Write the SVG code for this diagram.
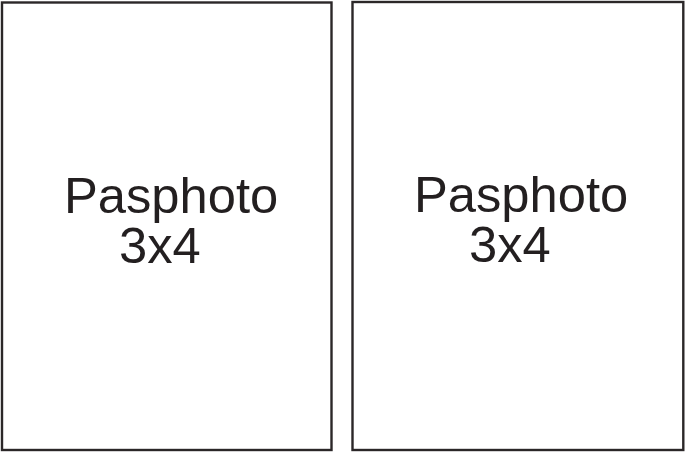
<svg xmlns="http://www.w3.org/2000/svg" width="685" height="452" viewBox="0 0 685 452">
<style>
.box{fill:#fff;stroke:#2b2728;stroke-width:2.4}
.t{font-family:"Liberation Sans",Arial,sans-serif;font-size:50.7px;fill:#231f20}
</style>
<rect width="685" height="452" fill="#fff"/>
<g id="photo1">
<rect class="box" x="2" y="2.5" width="329.5" height="447.5"/>
<text class="t" x="64" y="213.3">Pasphoto</text>
<text class="t" x="119" y="263.3">3x4</text>
</g>
<g id="photo2">
<rect class="box" x="352.5" y="2" width="330.8" height="448"/>
<text class="t" x="414" y="211.8">Pasphoto</text>
<text class="t" x="469" y="261.8">3x4</text>
</g>
<g id="connectors"/>
</svg>
